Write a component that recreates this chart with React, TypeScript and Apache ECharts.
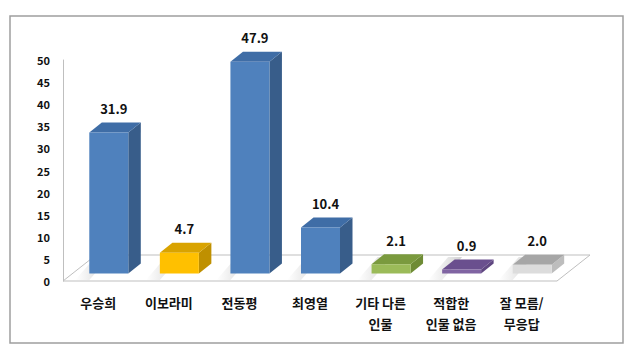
import React, { useEffect, useRef } from "react";
import * as echarts from "echarts";

const categories = ["우승희", "이보라미", "전동평", "최영열", "기타 다른\n인물", "적합한\n인물 없음", "잘 모름/\n무응답"];
const values = [31.9, 4.7, 47.9, 10.4, 2.1, 0.9, 2.0];
const valueLabels = ["31.9", "4.7", "47.9", "10.4", "2.1", "0.9", "2.0"];
const yTicks = { min: 0, max: 50, interval: 5 };

// face colours per bar: [front, top, side]
const palette = [
  ["#4F81BD", "#3F6DA6", "#385D8A"],
  ["#FFC000", "#D9A300", "#BF9000"],
  ["#4F81BD", "#3F6DA6", "#385D8A"],
  ["#4F81BD", "#3F6DA6", "#385D8A"],
  ["#9BBB59", "#7A9A3E", "#6E8B35"],
  ["#8064A2", "#6A4F8E", "#5F4680"],
  ["#DCDCDC", "#A6A6A6", "#BDBDBD"],
];

const FONT = "'Noto Sans CJK KR', 'Noto Sans', sans-serif";
const FLOOR_DX = 33;
const FLOOR_DY = -26;
const FRONT_DX = 9;
const FRONT_DY = -7.5;
const BAR_W = 39;
const DEPTH_DX = 12.5;
const DEPTH_DY = -10;

export default function App() {
  const ref = useRef<HTMLDivElement>(null);
  useEffect(() => {
    if (!ref.current) return;
    const chart = echarts.init(ref.current, null, { renderer: "svg" });
    const barData = values.map((v, i) => [i, v]);
    chart.setOption({
      animation: false,
      backgroundColor: "#ffffff",
      grid: { left: 63, width: 494, top: 60, height: 221 },
      xAxis: {
        type: "category",
        data: categories,
        axisLine: { show: false },
        axisTick: { show: false },
        axisLabel: {
          interval: 0,
          margin: 11,
          color: "#111",
          fontSize: 13,
          fontWeight: "bold",
          fontFamily: FONT,
          lineHeight: 21,
        },
      },
      yAxis: {
        type: "value",
        min: yTicks.min,
        max: yTicks.max,
        interval: yTicks.interval,
        axisLine: { show: true, lineStyle: { color: "#BFBFBF", width: 1 } },
        axisTick: { show: false },
        splitLine: { show: false },
        axisLabel: {
          margin: 13,
          color: "#111",
          fontSize: 11,
          fontWeight: "bold",
          fontFamily: FONT,
        },
      },
      graphic: [
        {
          type: "rect",
          shape: { x: 10, y: 16, width: 613, height: 327 },
          style: { fill: "none", stroke: "#9E9E9E", lineWidth: 1.5 },
          z: 100,
        },
      ],
      series: [
        {
          type: "custom",
          z: 1,
          data: [[0, 0]],
          renderItem: (params: any, api: any) => {
            const cs = params.coordSys;
            const x0 = cs.x;
            const x1 = cs.x + cs.width;
            const y0 = cs.y + cs.height;
            return {
              type: "polygon",
              shape: {
                points: [
                  [x0, y0],
                  [x1, y0],
                  [x1 + FLOOR_DX, y0 + FLOOR_DY],
                  [x0 + FLOOR_DX, y0 + FLOOR_DY],
                ],
              },
              style: { fill: "#ffffff", stroke: "#BFBFBF", lineWidth: 1 },
            };
          },
        },
        {
          type: "custom",
          z: 2,
          data: barData,
          encode: { x: 0, y: 1 },
          renderItem: (params: any, api: any) => {
            const i = api.value(0);
            const v = api.value(1);
            const base = api.coord([i, 0]);
            const top = api.coord([i, v]);
            const fx = base[0] - FRONT_DX;
            const by = base[1] + FRONT_DY;
            const ty = top[1] + FRONT_DY;
            const [cf, ct, cside] = palette[params.dataIndex];
            const shadow = {
              type: "polygon",
              shape: {
                points: [
                  [fx - 14, base[1] - 1],
                  [fx, base[1] - 1],
                  [fx + 20, base[1] + FLOOR_DY + 2],
                  [fx + 6, base[1] + FLOOR_DY + 2],
                ],
              },
              style: {
                fill: new echarts.graphic.LinearGradient(0, 0, 1, 0, [
                  { offset: 0, color: "rgba(200,200,200,0)" },
                  { offset: 1, color: "rgba(190,190,190,0.7)" },
                ]),
              },
            };
            return {
              type: "group",
              children: [
                shadow,
                {
                  type: "polygon",
                  shape: {
                    points: [
                      [fx + BAR_W, ty],
                      [fx + BAR_W + DEPTH_DX, ty + DEPTH_DY],
                      [fx + BAR_W + DEPTH_DX, by + DEPTH_DY],
                      [fx + BAR_W, by],
                    ],
                  },
                  style: { fill: cside },
                },
                {
                  type: "polygon",
                  shape: {
                    points: [
                      [fx, ty],
                      [fx + DEPTH_DX, ty + DEPTH_DY],
                      [fx + BAR_W + DEPTH_DX, ty + DEPTH_DY],
                      [fx + BAR_W, ty],
                    ],
                  },
                  style: { fill: ct },
                },
                {
                  type: "rect",
                  shape: { x: fx, y: ty, width: BAR_W, height: by - ty },
                  style: { fill: cf },
                },
                {
                  type: "text",
                  x: fx + BAR_W / 2 + 5,
                  y: ty + DEPTH_DY - 14,
                  style: {
                    text: valueLabels[params.dataIndex],
                    fill: "#111",
                    font: `bold 13px ${FONT}`,
                    align: "center",
                    verticalAlign: "middle",
                  },
                },
              ],
            };
          },
        },
      ],
    });
    return () => chart.dispose();
  }, []);
  return (
    <div
      ref={ref}
      style={{ position: "fixed", left: 0, top: 0, width: 640, height: 355 }}
    />
  );
}
